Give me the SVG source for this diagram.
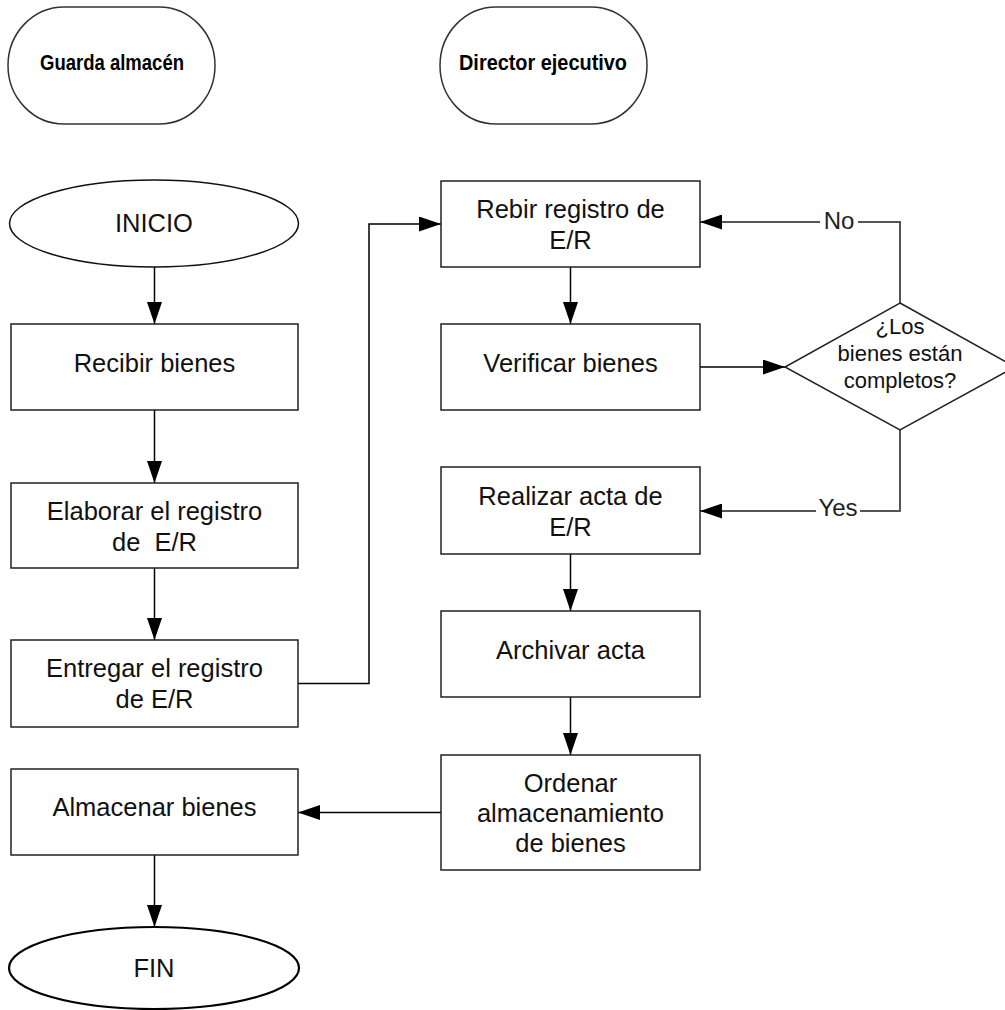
<svg xmlns="http://www.w3.org/2000/svg" width="1005" height="1010" viewBox="0 0 1005 1010">
  <defs>
    <marker id="arrow" markerUnits="userSpaceOnUse" markerWidth="22" markerHeight="15" refX="22" refY="7.5" orient="auto">
      <path d="M0,0 L22,7.5 L0,15 Z" fill="#000"/>
    </marker>
    <style>
      .shape { fill: #fff; stroke: #222; stroke-width: 1.5; }
      .lane { fill: #fff; stroke: #333; stroke-width: 1.5; }
      .term { fill: #fff; stroke: #111; stroke-width: 1.5; }
      .term-bold { fill: #fff; stroke: #000; stroke-width: 2.2; }
      .txt { font-family: "Liberation Sans", Arial, sans-serif; font-size: 25.5px; fill: #111; text-anchor: middle; }
      .head { font-family: "Liberation Sans", Arial, sans-serif; font-size: 22px; font-weight: bold; fill: #000; text-anchor: middle; }
      .dtxt { font-family: "Liberation Sans", Arial, sans-serif; font-size: 22px; fill: #111; text-anchor: middle; }
      .lbl { font-family: "Liberation Sans", Arial, sans-serif; font-size: 24px; fill: #222; text-anchor: middle; }
      .flow { fill: none; stroke: #000; stroke-width: 1.5; marker-end: url(#arrow); }
      .branch { fill: none; stroke: #555; stroke-width: 2; marker-end: url(#arrow); }
    </style>
  </defs>

  <rect width="1005" height="1010" fill="#fff"/>

  <!-- Lane headers -->
  <g id="lane-guarda">
    <rect class="lane" x="8" y="7" width="207" height="117" rx="56" ry="58.5"/>
    <text class="head" x="112" y="70" textLength="144" lengthAdjust="spacingAndGlyphs">Guarda almacén</text>
  </g>
  <g id="lane-director">
    <rect class="lane" x="440" y="7" width="207" height="117" rx="56" ry="58.5"/>
    <text class="head" x="543" y="70" textLength="168" lengthAdjust="spacingAndGlyphs">Director ejecutivo</text>
  </g>

  <!-- Connectors -->
  <g id="connectors">
    <path class="flow" d="M154.5,267 L154.5,324"/>
    <path class="flow" d="M154.5,410 L154.5,483"/>
    <path class="flow" d="M154.5,568 L154.5,640"/>
    <path class="flow" d="M298,683.5 L369,683.5 L369,224 L441,224"/>
    <path class="flow" d="M570.5,267 L570.5,324"/>
    <path class="flow" d="M700,367 L785,367"/>
    <path class="branch" d="M900,303 L900,222 L700,222"/>
    <path class="branch" d="M900,430 L900,511 L700,511"/>
    <path class="flow" d="M570.5,554 L570.5,611"/>
    <path class="flow" d="M570.5,697 L570.5,755"/>
    <path class="flow" d="M441,812.5 L298,812.5"/>
    <path class="flow" d="M154.5,855 L154.5,927"/>
    <rect x="820" y="208" width="38" height="28" fill="#fff"/>
    <text class="lbl" x="839" y="229">No</text>
    <rect x="816" y="497" width="44" height="28" fill="#fff"/>
    <text class="lbl" x="838" y="516">Yes</text>
  </g>

  <!-- Guarda almacén column -->
  <g id="inicio">
    <ellipse class="term" cx="154" cy="223.5" rx="144.5" ry="43.5"/>
    <text class="txt" x="154" y="232">INICIO</text>
  </g>
  <g id="recibir-bienes">
    <rect class="shape" x="11" y="324" width="287" height="86"/>
    <text class="txt" x="154.5" y="372">Recibir bienes</text>
  </g>
  <g id="elaborar-registro">
    <rect class="shape" x="11" y="483" width="287" height="85"/>
    <text class="txt" x="154.5" y="520">Elaborar el registro</text>
    <text class="txt" x="154.5" y="551" xml:space="preserve">de  E/R</text>
  </g>
  <g id="entregar-registro">
    <rect class="shape" x="11" y="640" width="287" height="87"/>
    <text class="txt" x="154.5" y="677">Entregar el registro</text>
    <text class="txt" x="154.5" y="708">de E/R</text>
  </g>
  <g id="almacenar-bienes">
    <rect class="shape" x="11" y="769" width="287" height="86"/>
    <text class="txt" x="154.5" y="816">Almacenar bienes</text>
  </g>
  <g id="fin">
    <ellipse class="term-bold" cx="154" cy="968" rx="145" ry="41"/>
    <text class="txt" x="154" y="977">FIN</text>
  </g>

  <!-- Director ejecutivo column -->
  <g id="recibir-registro">
    <rect class="shape" x="441" y="181" width="259" height="86"/>
    <text class="txt" x="570.5" y="218">Rebir registro de</text>
    <text class="txt" x="570.5" y="249">E/R</text>
  </g>
  <g id="verificar-bienes">
    <rect class="shape" x="441" y="324" width="259" height="86"/>
    <text class="txt" x="570.5" y="372">Verificar bienes</text>
  </g>
  <g id="decision-completos">
    <polygon class="shape" points="900,303 1015,367 900,430 785,367"/>
    <text class="dtxt" x="900" y="334">¿Los</text>
    <text class="dtxt" x="900" y="361">bienes están</text>
    <text class="dtxt" x="900" y="388">completos?</text>
  </g>
  <g id="realizar-acta">
    <rect class="shape" x="441" y="467" width="259" height="87"/>
    <text class="txt" x="570.5" y="505">Realizar acta de</text>
    <text class="txt" x="570.5" y="536">E/R</text>
  </g>
  <g id="archivar-acta">
    <rect class="shape" x="441" y="611" width="259" height="86"/>
    <text class="txt" x="570.5" y="659">Archivar acta</text>
  </g>
  <g id="ordenar-almacenamiento">
    <rect class="shape" x="441" y="755" width="259" height="115"/>
    <text class="txt" x="570.5" y="792">Ordenar</text>
    <text class="txt" x="570.5" y="822">almacenamiento</text>
    <text class="txt" x="570.5" y="852">de bienes</text>
  </g>
</svg>
